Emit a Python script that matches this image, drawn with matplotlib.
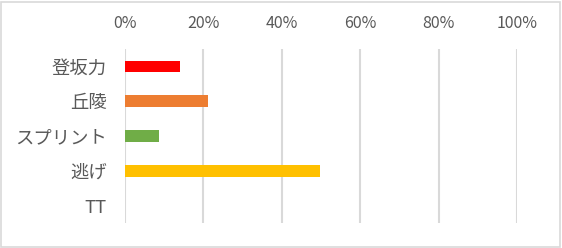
import matplotlib.pyplot as plt
from matplotlib.patches import Rectangle
from matplotlib.ticker import PercentFormatter

plt.rcParams['font.family'] = ['Noto Sans CJK JP', 'DejaVu Sans']

categories = ['登坂力', '丘陵', 'スプリント', '逃げ', 'TT']
values = [14.0, 21.2, 8.6, 49.7, 0.0]
colors = ['#ff0000', '#ed7d31', '#70ad47', '#ffc000', '#4472c4']
ticks = [0, 20, 40, 60, 80, 100]

fig = plt.figure(figsize=(5.62, 2.48), dpi=100)
ax = fig.add_axes([125 / 562, 1 - 223 / 248, (517 - 125) / 562, (223 - 49) / 248])

ypos = list(range(len(categories)))
ax.barh(ypos, values, height=0.33, color=colors, zorder=3)

ax.set_xlim(0, 100)
ax.set_ylim(len(categories) - 0.5, -0.5)
ax.set_yticks(ypos)
ax.set_yticklabels(categories)
ax.set_xticks(ticks)
ax.xaxis.set_major_formatter(PercentFormatter(decimals=0))
ax.xaxis.tick_top()
ax.tick_params(axis='both', length=0, colors='#595959')
ax.tick_params(axis='x', pad=12, labelsize=11.5)
ax.tick_params(axis='y', pad=13, labelsize=13.2)
ax.grid(axis='x', color='#d9d9d9', linewidth=1.5, zorder=0)
for s in ax.spines.values():
    s.set_visible(False)

# outer chart border
fig.patches.append(Rectangle((1 / 562, 1 / 248), 559 / 562, 245 / 248, transform=fig.transFigure,
                             fill=False, edgecolor='#d9d9d9', linewidth=1.2))

fig.savefig('out.png', dpi=100)
